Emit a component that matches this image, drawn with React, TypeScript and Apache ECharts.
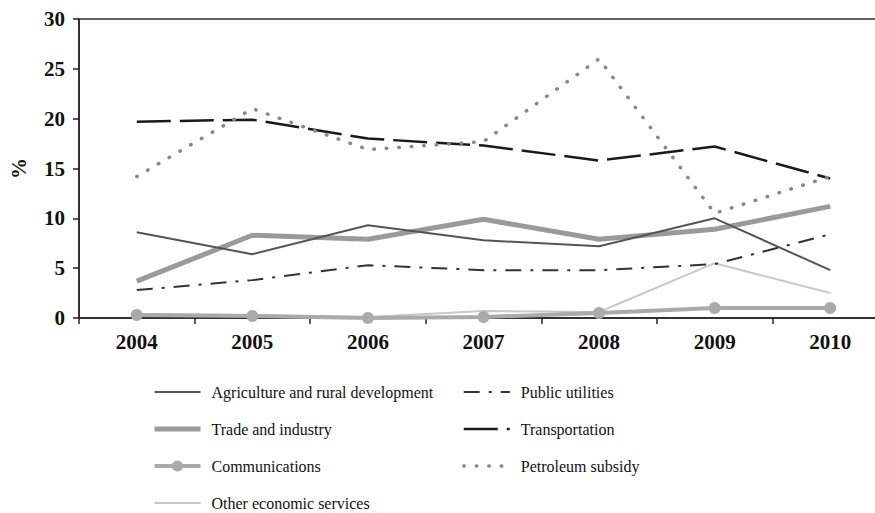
import React, { useEffect, useRef } from "react";
import * as echarts from "echarts";

const years = ["2004", "2005", "2006", "2007", "2008", "2009", "2010"];
const agriculture = [8.6, 6.4, 9.3, 7.8, 7.2, 10.0, 4.8];
const trade = [3.7, 8.3, 7.9, 9.9, 7.9, 8.9, 11.2];
const communications = [0.3, 0.2, 0.0, 0.1, 0.5, 1.0, 1.0];
const otherServices = [0.4, 0.3, 0.1, 0.7, 0.6, 5.5, 2.5];
const publicUtilities = [2.8, 3.8, 5.3, 4.8, 4.8, 5.4, 8.4];
const transportation = [19.7, 19.9, 18.0, 17.3, 15.8, 17.2, 14.0];
const petroleum = [14.2, 21.0, 16.9, 17.7, 26.0, 10.5, 14.2];
const yTicks = [0, 5, 10, 15, 20, 25, 30];

const leftNames = [
  "Agriculture and rural development",
  "Trade and industry",
  "Communications",
  "Other economic services",
];
const rightNames = ["Public utilities", "Transportation", "Petroleum subsidy"];
const markerSeries = ["Communications"];

export default function App() {
  const ref = useRef<HTMLDivElement>(null);
  useEffect(() => {
    if (!ref.current) return;
    const chart = echarts.init(ref.current, null, { renderer: "svg" });
    const font = "'Liberation Serif', 'Times New Roman', serif";
    const legendItems = (names: string[]) =>
      names.map((n) =>
        markerSeries.includes(n) ? { name: n } : { name: n, itemStyle: { opacity: 0 } }
      );
    const legendCommon = {
      orient: "vertical" as const,
      itemWidth: 46,
      itemHeight: 14,
      itemGap: 21,
      height: 200,
      selectedMode: false,
      lineStyle: { width: "inherit" },
      textStyle: {
        fontFamily: font,
        fontSize: 16,
        color: "#111",
        padding: [0, 0, 0, 6],
      },
    };
    const axisText = { fontFamily: font, fontSize: 21, fontWeight: "bold", color: "#111" };
    chart.setOption({
      animation: false,
      backgroundColor: "#fff",
      grid: {
        left: 76,
        top: 19,
        right: 12,
        bottom: 195,
        show: true,
        borderColor: "#333",
        borderWidth: 1.5,
      },
      legend: [
        { ...legendCommon, data: legendItems(leftNames), left: 147, top: 379 },
        { ...legendCommon, data: legendItems(rightNames), left: 457, top: 379 },
      ],
      xAxis: {
        type: "category",
        data: years,
        boundaryGap: true,
        axisLine: { lineStyle: { color: "#222", width: 1.5 } },
        axisTick: { show: true, length: 6, lineStyle: { color: "#222", width: 1.5 } },
        axisLabel: { ...axisText, margin: 13 },
      },
      yAxis: {
        type: "value",
        min: 0,
        max: 30,
        interval: 5,
        name: "%",
        nameLocation: "middle",
        nameRotate: 90,
        nameGap: 50,
        nameTextStyle: axisText,
        axisLine: { show: true, lineStyle: { color: "#222", width: 1.5 } },
        axisTick: { show: true, length: 6, lineStyle: { color: "#222", width: 1.5 } },
        splitLine: { show: false },
        axisLabel: {
          ...axisText,
          margin: 14,
          formatter: (v: number) => (yTicks.includes(v) ? String(v) : ""),
        },
      },
      series: [
        {
          name: leftNames[0],
          type: "line",
          data: agriculture,
          symbol: "none",
          lineStyle: { color: "#555", width: 2 },
          itemStyle: { color: "#555" },
          z: 3,
        },
        {
          name: leftNames[1],
          type: "line",
          data: trade,
          symbol: "none",
          lineStyle: { color: "#9a9a9a", width: 5 },
          itemStyle: { color: "#9a9a9a" },
          z: 2,
        },
        {
          name: leftNames[2],
          type: "line",
          data: communications,
          symbol: "circle",
          symbolSize: 12,
          lineStyle: { color: "#aaa", width: 4 },
          itemStyle: { color: "#aaa" },
          z: 2,
        },
        {
          name: leftNames[3],
          type: "line",
          data: otherServices,
          symbol: "none",
          lineStyle: { color: "#c8c8c8", width: 2 },
          itemStyle: { color: "#c8c8c8" },
          z: 1,
        },
        {
          name: rightNames[0],
          type: "line",
          data: publicUtilities,
          symbol: "none",
          lineStyle: { color: "#333", width: 2, type: [16, 9, 3, 9] },
          itemStyle: { color: "#333" },
          z: 3,
        },
        {
          name: rightNames[1],
          type: "line",
          data: transportation,
          symbol: "none",
          lineStyle: { color: "#1a1a1a", width: 2.5, type: [34, 9] },
          itemStyle: { color: "#1a1a1a" },
          z: 3,
        },
        {
          name: rightNames[2],
          type: "line",
          data: petroleum,
          symbol: "none",
          lineStyle: { color: "#888", width: 3.5, type: [0.5, 12], cap: "round" },
          itemStyle: { color: "#888" },
          z: 3,
        },
      ],
    });
    return () => chart.dispose();
  }, []);
  return (
    <div
      ref={ref}
      style={{ position: "fixed", left: 0, top: 0, width: 900, height: 513, background: "#fff" }}
    />
  );
}
